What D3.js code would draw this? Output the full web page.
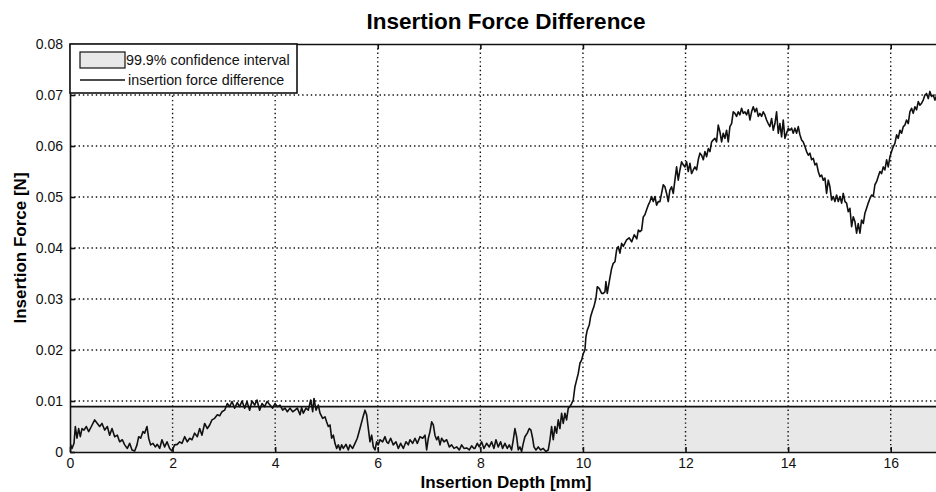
<!DOCTYPE html>
<html lang="en">
  <head>
    <meta charset="UTF-8" />
    <title>Insertion Force Difference - d3</title>
    <script src="https://d3js.org/d3.v7.min.js"></script>
  </head>
  <style>
    html,
    body {
      margin: 0;
      padding: 0;
      background: #fff;
    }
    svg text {
      font-family: "Liberation Sans", Arial, sans-serif;
    }
  </style>
  <body>
    <script>
      // ticks
      var xTicks = [0, 2, 4, 6, 8, 10, 12, 14, 16];
      var yTicks = [0, 0.01, 0.02, 0.03, 0.04, 0.05, 0.06, 0.07, 0.08];
      var yTickLabels = ["0", "0.01", "0.02", "0.03", "0.04", "0.05", "0.06", "0.07", "0.08"];

      // upper bound of the 99.9% confidence interval [N]
      var ciUpper = 0.0089;

      var legendLabels = ["99.9% confidence interval", "insertion force difference"];

      // insertion force difference, [depth mm, force N]
      var curve = [
        [0.0, 0.001], [0.013, 0.0014], [0.039, 0.0007], [0.078, 0.0017], [0.104, 0.005], [0.136, 0.0027],
        [0.169, 0.0046], [0.201, 0.003], [0.234, 0.0046], [0.273, 0.0043], [0.318, 0.005], [0.364, 0.004],
        [0.416, 0.005], [0.481, 0.0063], [0.533, 0.0056], [0.578, 0.005], [0.624, 0.0056], [0.676, 0.0043],
        [0.728, 0.005], [0.773, 0.0033], [0.819, 0.0046], [0.871, 0.003], [0.923, 0.0033], [0.968, 0.002],
        [1.02, 0.0024], [1.066, 0.0014], [1.118, 0.0007], [1.163, 0.0017], [1.209, 0.0004], [1.261, 0.0002],
        [1.306, 0.0014], [1.339, 0.003], [1.378, 0.0027], [1.423, 0.004], [1.456, 0.0037], [1.501, 0.005],
        [1.534, 0.0027], [1.572, 0.0014], [1.618, 0.0017], [1.663, 0.001], [1.702, 0.0015], [1.748, 0.0007],
        [1.793, 0.0024], [1.845, 0.001], [1.891, 0.002], [1.943, 0.0007], [1.988, 0.0002], [2.04, 0.0014],
        [2.092, 0.0015], [2.138, 0.002], [2.183, 0.0017], [2.235, 0.003], [2.287, 0.002], [2.333, 0.0027],
        [2.378, 0.0024], [2.43, 0.0037], [2.482, 0.003], [2.528, 0.0046], [2.573, 0.0033], [2.625, 0.0056],
        [2.677, 0.0046], [2.723, 0.0053], [2.768, 0.0063], [2.82, 0.0066], [2.872, 0.0073], [2.918, 0.0071],
        [2.963, 0.0079], [3.015, 0.0082], [3.067, 0.0095], [3.112, 0.0089], [3.158, 0.0099], [3.21, 0.0086],
        [3.262, 0.0097], [3.307, 0.0089], [3.353, 0.01], [3.405, 0.0086], [3.45, 0.0099], [3.502, 0.0082],
        [3.548, 0.01], [3.6, 0.0092], [3.645, 0.0102], [3.697, 0.0082], [3.743, 0.0095], [3.795, 0.0089],
        [3.84, 0.0099],
        [3.899, 0.0092], [3.951, 0.0086], [3.996, 0.0095], [4.042, 0.0089], [4.094, 0.0092], [4.146, 0.0082],
        [4.191, 0.0086], [4.237, 0.0079], [4.289, 0.0086], [4.341, 0.0079], [4.386, 0.0082], [4.432, 0.0086],
        [4.484, 0.0073], [4.516, 0.0087], [4.549, 0.0076], [4.601, 0.0086], [4.646, 0.0082], [4.692, 0.0102],
        [4.731, 0.0079], [4.757, 0.0105], [4.796, 0.0082], [4.841, 0.0092], [4.874, 0.0076], [4.926, 0.0066],
        [4.971, 0.0069], [5.004, 0.0059], [5.036, 0.005], [5.069, 0.0053], [5.101, 0.0027], [5.134, 0.0033],
        [5.166, 0.0017], [5.199, 0.0007], [5.231, 0.0014], [5.264, 0.0004], [5.296, 0.0014], [5.329, 0.0007],
        [5.38, 0.0015], [5.426, 0.0004], [5.458, 0.0014], [5.51, 0.0007], [5.556, 0.0017], [5.601, 0.0027],
        [5.653, 0.0046], [5.705, 0.0066], [5.751, 0.0082], [5.783, 0.0073], [5.816, 0.0046], [5.848, 0.002],
        [5.881, 0.0033], [5.913, 0.001], [5.946, 0.0004], [5.978, 0.002], [6.011, 0.0014], [6.043, 0.0024],
        [6.095, 0.002], [6.141, 0.003], [6.173, 0.002], [6.206, 0.0017], [6.251, 0.0027], [6.303, 0.0014],
        [6.355, 0.002], [6.401, 0.0007], [6.446, 0.0017], [6.498, 0.0007], [6.55, 0.002], [6.596, 0.0014],
        [6.628, 0.0024], [6.68, 0.0017], [6.726, 0.0027], [6.771, 0.0017], [6.823, 0.003], [6.875, 0.0027],
        [6.921, 0.0033], [6.953, 0.0004], [6.986, 0.0027], [7.018, 0.004], [7.051, 0.0059], [7.083, 0.0053],
        [7.115, 0.0033], [7.148, 0.0024], [7.18, 0.003], [7.213, 0.0014], [7.245, 0.0027], [7.291, 0.002],
        [7.343, 0.0024], [7.395, 0.001], [7.44, 0.0014], [7.486, 0.0007], [7.538, 0.001], [7.59, 0.0004],
        [7.635, 0.0014], [7.681, 0.0007], [7.733, 0.0008], [7.785, 0.0004], [7.83, 0.0012], [7.876, 0.0007],
        [7.894, 0.0007], [7.94, 0.0017], [7.979, 0.001], [8.024, 0.002], [8.07, 0.0007], [8.122, 0.0017],
        [8.174, 0.001], [8.219, 0.002], [8.265, 0.0007], [8.304, 0.0024], [8.349, 0.001], [8.395, 0.002],
        [8.434, 0.0007], [8.479, 0.0017], [8.525, 0.0007], [8.564, 0.0014], [8.609, 0.0004], [8.642, 0.0024],
        [8.674, 0.0046], [8.707, 0.003], [8.739, 0.0004], [8.772, 0.001], [8.804, 0.0001], [8.837, 0.0017],
        [8.869, 0.003], [8.915, 0.0037], [8.954, 0.0046], [8.986, 0.0043], [9.019, 0.0027], [9.045, 0.001],
        [9.084, 0.0004], [9.129, 0.001], [9.175, 0.0004], [9.226, 0.0007], [9.278, 0.0001], [9.324, 0.0004],
        [9.357, 0.0024], [9.389, 0.005], [9.421, 0.0024], [9.454, 0.005], [9.486, 0.0037], [9.519, 0.0063],
        [9.551, 0.0046], [9.584, 0.0076], [9.616, 0.0056], [9.649, 0.0076], [9.681, 0.0063], [9.714, 0.0086],
        [9.746, 0.0089], [9.779, 0.0095], [9.811, 0.0102], [9.844, 0.0128], [9.876, 0.0141], [9.909, 0.0154],
        [9.941, 0.0174], [9.974, 0.018], [10.006, 0.0193], [10.039, 0.02], [10.058, 0.0226], [10.084, 0.0239],
        [10.123, 0.0249], [10.149, 0.0265], [10.188, 0.0278], [10.214, 0.0285], [10.253, 0.0301], [10.279, 0.0324],
        [10.318, 0.0321], [10.364, 0.0311], [10.396, 0.0311], [10.429, 0.0314], [10.448, 0.0334], [10.474, 0.0311],
        [10.513, 0.0334], [10.559, 0.036], [10.591, 0.037], [10.624, 0.0373], [10.656, 0.0396], [10.688, 0.0403],
        [10.721, 0.039], [10.754, 0.0409], [10.786, 0.0403], [10.851, 0.0416], [10.9, 0.042], [10.95, 0.0412],
        [11.0, 0.0426], [11.05, 0.0418], [11.08, 0.0435],
        [11.111, 0.0432], [11.144, 0.0435], [11.176, 0.0461], [11.208, 0.0465], [11.241, 0.0475], [11.273, 0.0484],
        [11.306, 0.0491], [11.338, 0.0501], [11.371, 0.0491], [11.403, 0.0501], [11.436, 0.0484], [11.468, 0.0491],
        [11.501, 0.0491], [11.533, 0.0507], [11.566, 0.0524], [11.598, 0.052], [11.631, 0.0507], [11.663, 0.0491],
        [11.696, 0.0514], [11.728, 0.052], [11.761, 0.0507], [11.793, 0.0533], [11.826, 0.0559], [11.858, 0.0533],
        [11.891, 0.0553], [11.923, 0.0569], [11.956, 0.0563], [11.988, 0.0559], [12.021, 0.0569], [12.053, 0.055],
        [12.086, 0.0566], [12.118, 0.0546], [12.151, 0.0553], [12.183, 0.0559], [12.216, 0.0553], [12.248, 0.0573],
        [12.281, 0.0586], [12.313, 0.0582], [12.346, 0.0573], [12.378, 0.0589], [12.411, 0.0579], [12.443, 0.0595],
        [12.476, 0.0589], [12.508, 0.0608], [12.541, 0.0612], [12.573, 0.0615], [12.605, 0.0608], [12.638, 0.0641],
        [12.67, 0.0628], [12.703, 0.0608], [12.735, 0.0625], [12.768, 0.0615], [12.8, 0.0631], [12.833, 0.0608],
        [12.865, 0.0638], [12.898, 0.0644], [12.93, 0.0667], [12.963, 0.0664], [12.995, 0.0658], [13.028, 0.0667],
        [13.06, 0.0661], [13.093, 0.0674], [13.125, 0.0664], [13.158, 0.0667], [13.19, 0.0661], [13.223, 0.0671],
        [13.255, 0.0651], [13.288, 0.0667], [13.32, 0.0677], [13.353, 0.0667], [13.385, 0.0674], [13.418, 0.0658],
        [13.45, 0.0664], [13.483, 0.0658], [13.515, 0.0667], [13.548, 0.0661], [13.58, 0.0651], [13.613, 0.0644],
        [13.645, 0.0638], [13.678, 0.0654], [13.71, 0.0631], [13.743, 0.0644], [13.775, 0.0667], [13.808, 0.0625],
        [13.84, 0.0644], [13.873, 0.0618], [13.905, 0.0651], [13.938, 0.0615], [13.97, 0.0625], [14.003, 0.0635],
        [14.035, 0.0631], [14.068, 0.0635], [14.1, 0.0625], [14.133, 0.0635], [14.165, 0.0625], [14.198, 0.0638],
        [14.23, 0.0622], [14.263, 0.0612], [14.295, 0.0608], [14.328, 0.0599], [14.36, 0.0589], [14.393, 0.0582],
        [14.425, 0.0586], [14.458, 0.0573], [14.49, 0.0576], [14.523, 0.0563], [14.555, 0.0566], [14.588, 0.055],
        [14.62, 0.054], [14.653, 0.0543], [14.685, 0.0533], [14.718, 0.0537], [14.75, 0.0507], [14.783, 0.0533],
        [14.815, 0.052], [14.848, 0.0494], [14.88, 0.0501], [14.913, 0.0491], [14.945, 0.0504], [14.978, 0.0491],
        [15.01, 0.0501], [15.043, 0.0488], [15.075, 0.0507], [15.108, 0.0491], [15.14, 0.0488], [15.173, 0.0471],
        [15.205, 0.0478], [15.238, 0.0442], [15.27, 0.0461], [15.302, 0.0452], [15.335, 0.0429], [15.367, 0.0448],
        [15.4, 0.0429], [15.432, 0.0455], [15.465, 0.0448], [15.497, 0.0468], [15.53, 0.0478], [15.562, 0.0488],
        [15.595, 0.0497], [15.627, 0.0504], [15.66, 0.0501], [15.692, 0.0524], [15.725, 0.053], [15.757, 0.054],
        [15.79, 0.055], [15.822, 0.0546], [15.855, 0.0559], [15.887, 0.0553], [15.92, 0.0573], [15.952, 0.0559],
        [15.985, 0.0579], [16.017, 0.0589], [16.05, 0.0599], [16.082, 0.0605], [16.115, 0.0622], [16.147, 0.0615],
        [16.18, 0.0631], [16.212, 0.0625], [16.245, 0.0638], [16.277, 0.0641], [16.309, 0.0651], [16.342, 0.0644],
        [16.374, 0.0667], [16.407, 0.0674], [16.439, 0.0664], [16.472, 0.0677], [16.504, 0.0671], [16.537, 0.0687],
        [16.569, 0.068], [16.602, 0.0684], [16.634, 0.069], [16.667, 0.07], [16.699, 0.0703], [16.732, 0.0693],
        [16.764, 0.0707], [16.797, 0.0697], [16.829, 0.07], [16.862, 0.069], [16.9, 0.07], [16.95, 0.0695],
        [17.0, 0.0702]
      ];

      var width = 936,
        height = 492;
      var margin = { top: 44, right: -6, bottom: 40, left: 70 };
      var plotW = width - margin.left - margin.right;
      var plotH = height - margin.top - margin.bottom;

      var svg = d3.select("body").append("svg").attr("width", width).attr("height", height);

      var x = d3.scaleLinear().domain([0, 17]).range([0, plotW]);
      var y = d3.scaleLinear().domain([0, 0.08]).range([plotH, 0]);

      svg
        .append("defs")
        .append("clipPath")
        .attr("id", "plotclip")
        .append("rect")
        .attr("width", plotW)
        .attr("height", plotH);

      var g = svg.append("g").attr("transform", "translate(" + margin.left + "," + margin.top + ")");

      // confidence interval patch
      g.append("rect")
        .attr("x", x(0))
        .attr("y", y(ciUpper))
        .attr("width", x(17) - x(0))
        .attr("height", y(0) - y(ciUpper))
        .attr("fill", "#e8e8e8");

      // dotted grid
      var grid = g.append("g").attr("stroke", "#111").attr("stroke-width", 1.4).attr("stroke-dasharray", "1.4,2.9");
      grid
        .selectAll("line.gx")
        .data(xTicks.slice(1))
        .enter()
        .append("line")
        .attr("x1", (d) => x(d))
        .attr("x2", (d) => x(d))
        .attr("y1", 0)
        .attr("y2", plotH);
      grid
        .selectAll("line.gy")
        .data(yTicks.slice(1, -1))
        .enter()
        .append("line")
        .attr("y1", (d) => y(d))
        .attr("y2", (d) => y(d))
        .attr("x1", 0)
        .attr("x2", plotW);

      // confidence bound line
      g.append("line")
        .attr("x1", 0)
        .attr("x2", plotW)
        .attr("y1", y(ciUpper))
        .attr("y2", y(ciUpper))
        .attr("stroke", "#111")
        .attr("stroke-width", 1.8);

      var line = d3
        .line()
        .x((d) => x(d[0]))
        .y((d) => y(d[1]));

      g.append("path")
        .datum(curve)
        .attr("clip-path", "url(#plotclip)")
        .attr("d", line)
        .attr("fill", "none")
        .attr("stroke", "#111")
        .attr("stroke-width", 1.6)
        .attr("stroke-linejoin", "round");

      // axes, ticks inside like matlab
      var xAxis = d3.axisBottom(x).tickValues(xTicks).tickSize(-5).tickSizeOuter(0).tickPadding(6).tickFormat(d3.format("d"));
      var yAxis = d3
        .axisLeft(y)
        .tickValues(yTicks)
        .tickSize(-5)
        .tickSizeOuter(0)
        .tickPadding(7)
        .tickFormat((d, i) => yTickLabels[i]);

      g.append("g").attr("class", "axis").attr("transform", "translate(0," + plotH + ")").call(xAxis);
      g.append("g").attr("class", "axis").call(yAxis);
      g.append("g").attr("class", "axis").call(d3.axisTop(x).tickValues(xTicks).tickSize(-5).tickSizeOuter(0).tickFormat(""));

      g.selectAll(".axis path, .axis line").attr("stroke", "#111").attr("stroke-width", 1.6);
      g.selectAll(".axis text").attr("font-size", 14).attr("fill", "#111");

      // title and labels
      svg
        .append("text")
        .attr("x", margin.left + plotW / 2)
        .attr("y", 29)
        .attr("text-anchor", "middle")
        .attr("font-size", 22.5)
        .attr("font-weight", "bold")
        .text("Insertion Force Difference");

      svg
        .append("text")
        .attr("x", margin.left + plotW / 2)
        .attr("y", 488)
        .attr("text-anchor", "middle")
        .attr("font-size", 17)
        .attr("font-weight", "bold")
        .text("Insertion Depth [mm]");

      svg
        .append("text")
        .attr("transform", "translate(26," + (margin.top + plotH / 2) + ") rotate(-90)")
        .attr("text-anchor", "middle")
        .attr("font-size", 17)
        .attr("font-weight", "bold")
        .text("Insertion Force [N]");

      // legend
      var lg = svg.append("g").attr("transform", "translate(70,44)");
      lg.append("rect")
        .attr("width", 227)
        .attr("height", 49)
        .attr("fill", "#fff")
        .attr("stroke", "#111")
        .attr("stroke-width", 1.6);
      lg.append("rect")
        .attr("x", 10)
        .attr("y", 8)
        .attr("width", 45)
        .attr("height", 16)
        .attr("fill", "#e8e8e8")
        .attr("stroke", "#111")
        .attr("stroke-width", 1.2);
      lg.append("line")
        .attr("x1", 10)
        .attr("x2", 55)
        .attr("y1", 36)
        .attr("y2", 36)
        .attr("stroke", "#111")
        .attr("stroke-width", 1.4);
      lg.selectAll("text.lab")
        .data(legendLabels)
        .enter()
        .append("text")
        .attr("x", (d, i) => (i === 0 ? 56 : 58))
        .attr("y", (d, i) => 21 + i * 20)
        .attr("font-size", 14.3)
        .attr("fill", "#111")
        .text((d) => d);
    </script>
  </body>
</html>
